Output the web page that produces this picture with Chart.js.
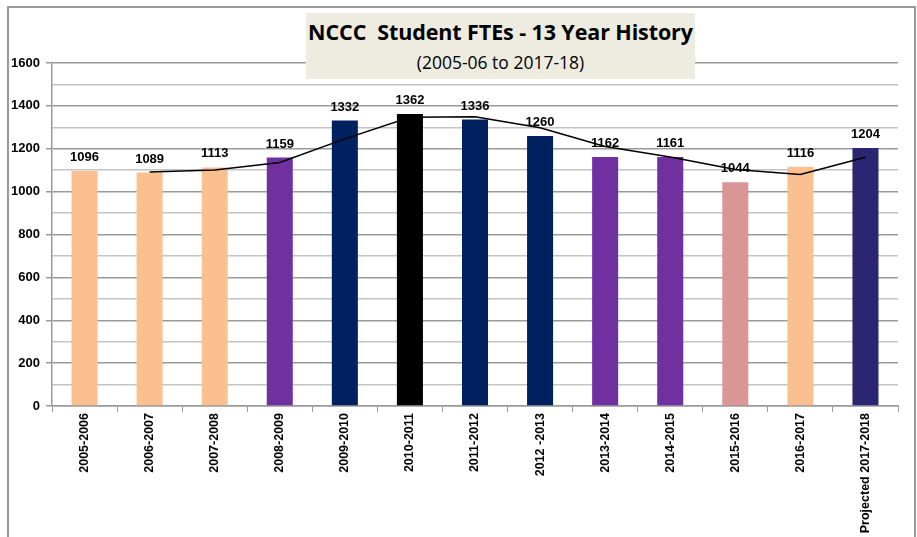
<!DOCTYPE html>
<html>
<head>
<meta charset="utf-8">
<script src="https://cdn.jsdelivr.net/npm/chart.js@4.4.1/dist/chart.umd.min.js"></script>
<style>
  body { margin: 0; background: #fff; }
  #wrap { position: relative; width: 917px; height: 537px; overflow: hidden; }
  #frame { position: absolute; left: 7px; top: 6px; width: 905px; height: 560px; border: 2px solid #9a9a9a; }
  #graph { position: absolute; left: 0; top: 0; }
  #titleBox {
    position: absolute; left: 306px; top: 13px; width: 389px; height: 66px;
    background: #eeece1; text-align: center; font-family: "Open Sans", sans-serif; color: #000;
  }
  #titleBox .main { font-weight: bold; font-size: 21.5px; margin-top: 5px; line-height: 28px; letter-spacing: -0.1px; }
  #titleBox .sub { font-size: 17.5px; line-height: 26px; margin-top: 3px; }
</style>
</head>
<body>
<div id="wrap">
  <div id="frame"></div>
  <canvas id="graph" width="917" height="537"></canvas>
  <div id="titleBox">
    <div class="main">NCCC&nbsp; Student FTEs - 13 Year History</div>
    <div class="sub">(2005-06 to 2017-18)</div>
  </div>
</div>
<script>
var years = ["2005-2006", "2006-2007", "2007-2008", "2008-2009", "2009-2010", "2010-2011",
	"2011-2012", "2012 -2013", "2013-2014", "2014-2015", "2015-2016", "2016-2017", "Projected 2017-2018"];
var ftes = [1096, 1089, 1113, 1159, 1332, 1362, 1336, 1260, 1162, 1161, 1044, 1116, 1204];
var movingAvg = [null, 1092, 1101, 1136, 1246, 1347, 1349, 1298, 1211, 1162, 1103, 1080, 1160];
var barColors = ["#fac090", "#fac090", "#fac090", "#7030a0", "#002060", "#000000",
	"#002060", "#002060", "#7030a0", "#7030a0", "#da9694", "#fac090", "#2a2672"];

var labelFont = '"Liberation Sans", Arial, sans-serif';

// value labels above each bar
var barLabels = {
	id: 'barLabels',
	afterDatasetsDraw: function(chart) {
		var ctx = chart.ctx;
		var meta = chart.getDatasetMeta(1);
		ctx.save();
		ctx.font = 'bold 13px ' + labelFont;
		ctx.fillStyle = '#000';
		ctx.textAlign = 'center';
		ctx.textBaseline = 'bottom';
		meta.data.forEach(function(bar, i) {
			ctx.fillText(ftes[i], bar.x, bar.y - 7);
		});
		ctx.restore();
	}
};

var ctx = document.getElementById("graph").getContext("2d");
var myChart = new Chart(ctx, {
	type: 'bar',
	data: {
		labels: years,
		datasets: [
			{
				type: 'line',
				label: 'Moving average',
				data: movingAvg,
				borderColor: '#000',
				borderWidth: 1.5,
				pointRadius: 0,
				fill: false,
				tension: 0,
				spanGaps: false,
				order: 0
			},
			{
				label: 'Student FTEs',
				data: ftes,
				backgroundColor: barColors,
				barPercentage: 0.4,
				categoryPercentage: 1.0,
				order: 1
			}
		]
	},
	options: {
		responsive: false,
		animation: false,
		layout: { padding: { left: 8, right: 19, top: 63, bottom: 0 } },
		plugins: {
			legend: { display: false },
			tooltip: { enabled: false },
			title: { display: false }
		},
		scales: {
			x: {
				offset: true,
				grid: { offset: true, drawOnChartArea: false, drawTicks: true, tickLength: 6, color: '#9a9a9a' },
				border: { color: '#9a9a9a', width: 1.5 },
				ticks: {
					autoSkip: false, maxRotation: 90, minRotation: 90, padding: 1,
					color: '#000', font: { family: labelFont, size: 12.5, weight: 'bold' }
				},
				afterFit: function(s) { s.height = 131; }
			},
			y: {
				min: 0, max: 1600,
				ticks: {
					stepSize: 100, padding: 6, color: '#000',
					font: { family: labelFont, size: 13, weight: 'bold' },
					callback: function(v) { return v % 200 === 0 ? v : ''; }
				},
				grid: {
					color: function(c) { return c.tick && c.tick.value % 200 === 0 ? '#9a9a9a' : '#c4c4c4'; },
					tickColor: function(c) { return c.tick && c.tick.value % 200 === 0 ? '#9a9a9a' : 'rgba(0,0,0,0)'; },
					tickLength: 6,
					lineWidth: 1.5
				},
				border: { color: '#9a9a9a', width: 1.5 },
				afterFit: function(s) { s.width = 44; }
			}
		}
	},
	plugins: [barLabels]
});
</script>
</body>
</html>
